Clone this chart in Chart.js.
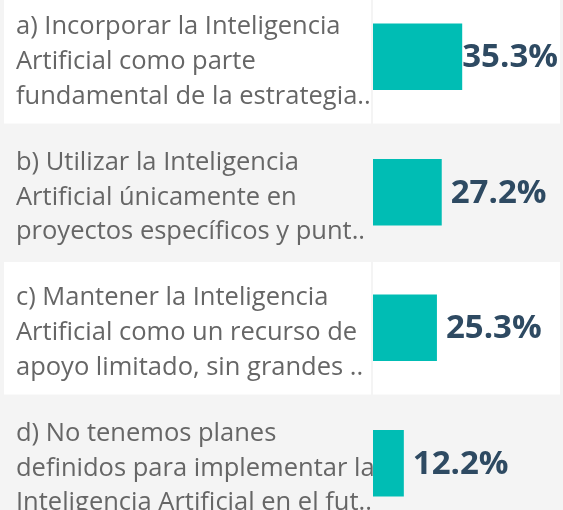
<!DOCTYPE html>
<html>
<head>
<meta charset="utf-8">
<script src="https://cdn.jsdelivr.net/npm/chart.js@4/dist/chart.umd.min.js"></script>
<style>
  html, body { margin: 0; padding: 0; background: #f4f4f4; overflow: hidden; width: 563px; height: 510px; }
  #wrap { position: absolute; left: 0; top: -11px; width: 563px; height: 542px; }
</style>
</head>
<body>
<div id="wrap"><canvas id="c"></canvas></div>
<script>
// ---- data ----
const categories = [
  ["a) Incorporar la Inteligencia", "Artificial como parte", "fundamental de la estrategia.."],
  ["b) Utilizar la Inteligencia", "Artificial únicamente en", "proyectos específicos y punt.."],
  ["c) Mantener la Inteligencia", "Artificial como un recurso de", "apoyo limitado, sin grandes .."],
  ["d) No tenemos planes", "definidos para implementar la", "Inteligencia Artificial en el fut.."]
];
const values = [35.3, 27.2, 25.3, 12.2];
const valueLabels = ["35.3%", "27.2%", "25.3%", "12.2%"];
const xMax = 74;

// ---- plugins ----
const panels = {
  id: 'panels',
  beforeDraw(chart) {
    const ctx = chart.ctx;
    const ca = chart.chartArea;
    const y = chart.scales.y;
    ctx.save();
    ctx.fillStyle = '#f4f4f4';
    ctx.fillRect(0, 0, chart.width, chart.height);
    const pitch = Math.abs(y.getPixelForValue(1) - y.getPixelForValue(0));
    const half = pitch / 2 - 2;
    ctx.fillStyle = '#ffffff';
    categories.forEach((c, i) => {
      if (i % 2 !== 0) return;
      const cy = y.getPixelForValue(i);
      ctx.fillRect(4, cy - half, ca.left - 2 - 4, half * 2 + 1);
      ctx.fillRect(ca.left, cy - half, ca.right - ca.left, half * 2 + 1);
    });
    ctx.restore();
  }
};

const valueText = {
  id: 'valueText',
  afterDatasetsDraw(chart) {
    const ctx = chart.ctx;
    const meta = chart.getDatasetMeta(0);
    const right = chart.chartArea.right - 2;
    ctx.save();
    ctx.font = 'bold 33px "Open Sans"';
    ctx.fillStyle = '#2e4a62';
    ctx.textBaseline = 'middle';
    ctx.textAlign = 'left';
    meta.data.forEach((bar, i) => {
      const t = valueLabels[i];
      const w = ctx.measureText(t).width;
      let x = bar.x + 9;
      if (x + w > right) x = right - w;
      ctx.fillText(t, x, bar.y + 1);
    });
    ctx.restore();
  }
};

new Chart(document.getElementById('c'), {
  type: 'bar',
  data: {
    labels: categories,
    datasets: [{
      data: values,
      backgroundColor: '#00bdb4',
      borderWidth: 0,
      categoryPercentage: 1,
      barPercentage: 0.49
    }]
  },
  options: {
    indexAxis: 'y',
    responsive: true,
    maintainAspectRatio: false,
    animation: false,
    layout: { padding: { left: 16, right: 3, top: 0, bottom: 0 } },
    plugins: { legend: { display: false }, tooltip: { enabled: false } },
    scales: {
      x: { display: false, min: 0, max: xMax },
      y: {
        grid: { display: false },
        border: { display: false },
        afterFit(scale) { scale.width = 357; scale.paddingTop = 0; scale.paddingBottom = 0; },
        ticks: {
          crossAlign: 'far',
          color: '#666666',
          labelOffset: 5,
          font: { family: '"Open Sans"', size: 25.5, lineHeight: 1.36 }
        }
      }
    }
  },
  plugins: [panels, valueText]
});
</script>
</body>
</html>
